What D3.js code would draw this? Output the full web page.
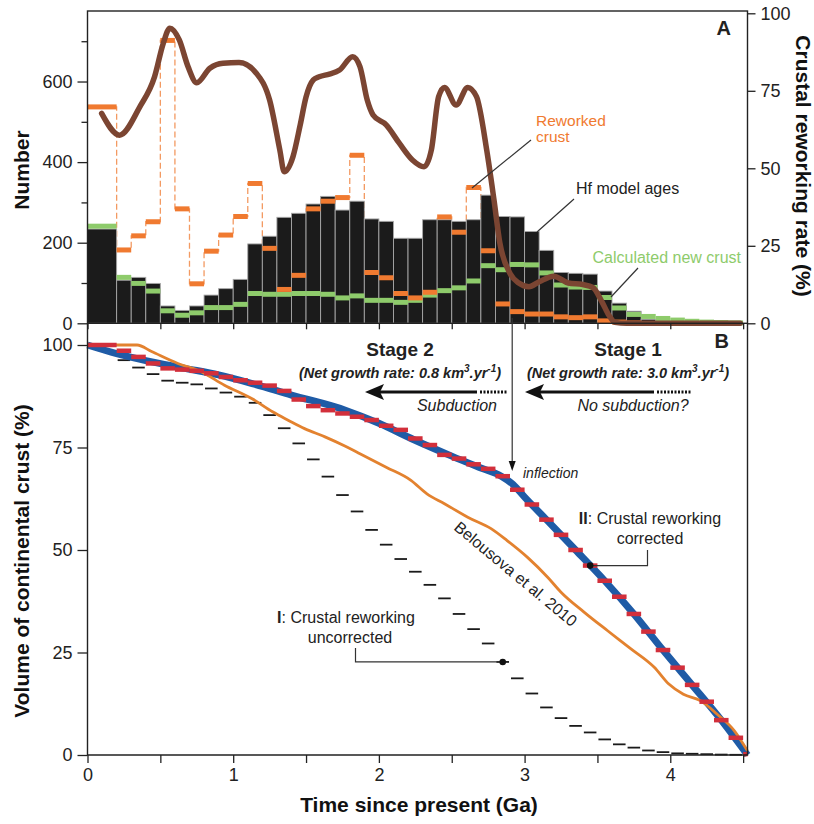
<!DOCTYPE html>
<html>
<head>
<meta charset="utf-8">
<script src="https://cdn.jsdelivr.net/npm/d3@7"></script>
<style>
  body { margin: 0; background: #fff; }
  svg { display: block; font-family: "Liberation Sans", Arial, Helvetica, sans-serif; }
</style>
</head>
<body>
<svg id="chart" width="814" height="824"></svg>
<script>
// ---- Age bins (Ga): bin i spans binEdges[i] .. binEdges[i+1]
const binEdges = [0, 0.2, 0.3, 0.4, 0.5, 0.6, 0.7, 0.8, 0.9, 1.0, 1.1, 1.2, 1.3, 1.4, 1.5,
  1.6, 1.7, 1.8, 1.9, 2.0, 2.1, 2.2, 2.3, 2.4, 2.5, 2.6, 2.7, 2.8, 2.9, 3.0, 3.1, 3.2,
  3.3, 3.4, 3.5, 3.6, 3.7, 3.8, 3.9, 4.0, 4.1, 4.2, 4.3, 4.4, 4.5, 4.53];

// ---- Panel A: counts per bin
const hfModelAges = [234, 107, 114, 99, 43, 32, 43, 70, 86, 109, 197, 216, 263, 273, 296,
  315, 281, 303, 259, 253, 211, 211, 257, 257, 253, 257, 318, 265, 264, 228, 181, 126,
  124, 122, 80, 50, 30, 10, 3, 0, 0, 0, 0, 0, 0];
const reworkedCrust = [537, 182, 217, 252, 702, 284, 98, 179, 219, 265, 347, 186, 84, 119, 284,
  303, 312, 417, 126, 113, 74, 63, 77, 264, 226, 337, 180, 48, 29, 23, 23, 16,
  14, 16, 6, 3, 1, null, null, null, null, null, null, null, null];
const newCrust = [241, 114, 99, 80, 31, 20, 26, 39, 39, 47, 74, 72, 72, 74, 74,
  72, 63, 68, 57, 57, 52, 57, 70, 81, 88, 105, 143, 133, 146, 145, 125, 95,
  90, 89, 64, 38, 22, 17, 12, 8, 5, 3, 2, 1, null];

// ---- Panel A: crustal reworking rate (%) curve
const rateAge = [0.097, 0.22, 0.36, 0.46, 0.52, 0.565, 0.63, 0.69, 0.75, 0.84, 0.93, 1.04, 1.16,
  1.25, 1.32, 1.35, 1.41, 1.46, 1.50, 1.55, 1.59, 1.66, 1.73, 1.82, 1.87, 1.92, 1.96, 2.05,
  2.14, 2.23, 2.31, 2.36, 2.41, 2.45, 2.53, 2.61, 2.67, 2.74, 2.79, 2.83, 2.90, 2.96, 3.03,
  3.10, 3.20, 3.30, 3.40, 3.47, 3.53, 3.58, 3.62, 3.70, 4.48];
const rateValue = [67.7, 60.7, 69.9, 79.5, 90.3, 95.2, 91.4, 82.8, 77.6, 82.3, 83.9, 84.1, 80.6,
  72.0, 55.9, 48.9, 53.7, 64.0, 73.0, 78.5, 79.5, 80.4, 81.7, 86.0, 82.8, 72.0, 67.2, 64.0,
  58.1, 52.7, 50.5, 55.9, 73.1, 76.1, 70.4, 76.1, 73.1, 55.9, 39.8, 26.0, 16.1, 13.0, 11.8,
  13.4, 15.2, 13.0, 12.5, 11.5, 7.0, 2.5, 0.3, 0, 0];

// ---- Panel B: cumulative volume of continental crust (%)
const correctedSteps = [100, 98.6, 97.1, 95.5, 94.3, 94.0, 93.7, 93.1, 92.2, 91.4, 90.8, 90.1,
  88.8, 86.7, 85.1, 84.1, 83.3, 82.5, 81.7, 80.3, 79.3, 77.2, 75.6, 73.2, 72.3, 70.9, 69.8,
  68.0, 64.7, 61.1, 57.4, 53.7, 50.0, 46.2, 42.5, 38.6, 34.4, 30.1, 25.6, 21.3, 17.1, 13.0,
  8.5, 4.2, 0.2];
const uncorrectedSteps = [null, 96.3, 94.5, 92.9, 91.3, 90.8, 90.4, 89.4, 88.4, 87.4, 85.9, 82.9,
  79.7, 76.0, 72.1, 67.9, 63.4, 59.4, 54.9, 51.3, 47.8, 44.7, 41.5, 38.2, 34.4, 30.7, 27.2,
  22.7, 18.7, 15.0, 11.6, 9.0, 7.1, 5.5, 3.8, 2.6, 1.8, 1.1, 0.7, 0.4, 0.3, 0.2, 0.1, 0.05, null];
const modelAge = [0, 0.2, 0.4, 0.67, 0.9, 1.13, 1.4, 1.77, 2.0, 2.24, 2.5, 2.7, 2.84, 2.92,
  3.0, 3.15, 3.35, 3.55, 3.75, 3.95, 4.15, 4.35, 4.53];
const modelVolume = [100, 97.9, 96.2, 94.3, 92.7, 90.6, 87.8, 84.1, 80.9, 76.9, 72.9, 70.0, 68.0,
  66.0, 62.9, 57.4, 50.0, 42.5, 34.4, 25.6, 17.1, 8.5, 0];
const belousovaAge = [0, 0.34, 0.44, 0.62, 0.78, 0.94, 1.13, 1.27, 1.38, 1.49, 1.63, 1.77, 1.87,
  2.05, 2.22, 2.33, 2.45, 2.61, 2.77, 2.88, 3.02, 3.16, 3.25, 3.41, 3.57, 3.73, 3.89, 3.99,
  4.09, 4.21, 4.32, 4.44, 4.53];
const belousovaVolume = [100, 100, 98.4, 95.5, 93.5, 90.2, 86.9, 83.7, 81.6, 79.6, 77.6, 75.3, 73.5,
  70.2, 67.0, 63.7, 61.3, 58.0, 55.2, 52.3, 48.2, 43.3, 39.7, 34.8, 30.3, 25.9, 21.4, 17.3,
  14.8, 13.2, 10.0, 5.9, 1.0];

// ---- Axis ticks
const numberTicks = [0, 200, 400, 600];
const numberMinorTicks = [100, 300, 500, 700];
const rateTicks = [0, 25, 50, 75, 100];
const volumeTicks = [0, 25, 50, 75, 100];
const timeTicks = [0, 0.5, 1, 1.5, 2, 2.5, 3, 3.5, 4, 4.5];
const timeLabels = [0, 1, 2, 3, 4];
const inflectionAge = 2.915;

// ---- Colours
const C = {
  bar: "#1b1b1b", barEdge: "#a8a8a8", green: "#8ecb6b", orange: "#f07a30",
  orangeDash: "#f39a62", brown: "#7b4532", blue: "#1f5ba6", red: "#d22f3b",
  bel: "#e3822f", ink: "#222"
};

const svg = d3.select("#chart");
const x = d3.scaleLinear().domain([0, 4.53]).range([87.5, 747.5]);
const yN = d3.scaleLinear().domain([0, 775]).range([323.3, 11]);
const yR = d3.scaleLinear().domain([0, 100]).range([323.3, 13.3]);
const yV = d3.scaleLinear().domain([0, 100]).range([755, 345]);

const bins = binEdges.slice(0, -1).map((a, i) => ({ a, b: binEdges[i + 1], i }));

// ================= Panel A =================
const gA = svg.append("g");

// dashed step outline of the reworked-crust series
const stepPts = [];
bins.forEach(d => {
  const v = reworkedCrust[d.i];
  if (v != null) { stepPts.push([x(d.a), yN(v)], [x(d.b), yN(v)]); }
});
gA.append("path")
  .attr("d", d3.line()(stepPts))
  .attr("fill", "none").attr("stroke", C.orangeDash)
  .attr("stroke-width", 1.3).attr("stroke-dasharray", "6,3");

// Hf model age histogram
gA.selectAll("rect.hf").data(bins.filter(d => hfModelAges[d.i] > 0)).join("rect")
  .attr("class", "hf")
  .attr("x", d => x(d.a)).attr("width", d => x(d.b) - x(d.a))
  .attr("y", d => yN(hfModelAges[d.i]))
  .attr("height", d => yN(0) - yN(hfModelAges[d.i]))
  .attr("fill", C.bar).attr("stroke", C.barEdge).attr("stroke-width", 0.9);

// calculated new crust markers
gA.selectAll("line.nc").data(bins.filter(d => newCrust[d.i] != null)).join("line")
  .attr("class", "nc")
  .attr("x1", d => x(d.a)).attr("x2", d => x(d.b))
  .attr("y1", d => yN(newCrust[d.i])).attr("y2", d => yN(newCrust[d.i]))
  .attr("stroke", C.green).attr("stroke-width", 5);

// reworked crust markers
gA.selectAll("line.rw").data(bins.filter(d => reworkedCrust[d.i] != null)).join("line")
  .attr("class", "rw")
  .attr("x1", d => x(d.a)).attr("x2", d => x(d.b))
  .attr("y1", d => yN(reworkedCrust[d.i])).attr("y2", d => yN(reworkedCrust[d.i]))
  .attr("stroke", C.orange).attr("stroke-width", 5);

// crustal reworking rate curve
const rateLine = d3.line().x(d => x(d[0])).y(d => yR(d[1])).curve(d3.curveMonotoneX);
gA.append("path")
  .attr("d", rateLine(rateAge.map((t, i) => [t, rateValue[i]])))
  .attr("fill", "none").attr("stroke", C.brown).attr("stroke-width", 5.5)
  .attr("stroke-linejoin", "round").attr("stroke-linecap", "round");

// ================= Panel B =================
const gB = svg.append("g");

// I: crustal reworking uncorrected
gB.selectAll("line.unc").data(bins.filter(d => uncorrectedSteps[d.i] != null)).join("line")
  .attr("class", "unc")
  .attr("x1", d => x(d.a) + 1).attr("x2", d => x(d.b) - 1)
  .attr("y1", d => yV(uncorrectedSteps[d.i])).attr("y2", d => yV(uncorrectedSteps[d.i]))
  .attr("stroke", "#1a1a1a").attr("stroke-width", 1.8);

const volLine = d3.line().x(d => x(d[0])).y(d => yV(d[1])).curve(d3.curveMonotoneX);

// II: model curve
gB.append("path")
  .attr("d", volLine(modelAge.map((t, i) => [t, modelVolume[i]])))
  .attr("fill", "none").attr("stroke", C.blue).attr("stroke-width", 7);

// Belousova et al. 2010
gB.append("path")
  .attr("d", volLine(belousovaAge.map((t, i) => [t, belousovaVolume[i]])))
  .attr("fill", "none").attr("stroke", C.bel).attr("stroke-width", 2.8);

// II: crustal reworking corrected
gB.selectAll("line.cor").data(bins).join("line")
  .attr("class", "cor")
  .attr("x1", d => x(d.a)).attr("x2", d => x(d.b))
  .attr("y1", d => yV(correctedSteps[d.i])).attr("y2", d => yV(correctedSteps[d.i]))
  .attr("stroke", C.red).attr("stroke-width", 4.5);

// ================= Frames and axes =================
const frame = svg.append("g").attr("fill", "none").attr("stroke", C.ink).attr("stroke-width", 1.4);
frame.append("rect").attr("x", 87.5).attr("y", 11).attr("width", 660).attr("height", 312.3);
frame.append("path").attr("d", "M87.5,323.3V755H747.5V323.3");

function styleAxis(g) {
  g.select(".domain").remove();
  g.selectAll(".tick line").attr("stroke", C.ink).attr("stroke-width", 1.3);
  g.selectAll(".tick text").attr("fill", "#222").attr("font-size", 18)
    .attr("font-family", "'Liberation Sans', Arial, sans-serif");
}

svg.append("g").attr("transform", "translate(87.5,0)")
  .call(d3.axisLeft(yN).tickValues(numberTicks).tickSize(10).tickPadding(5)).call(styleAxis);
svg.append("g").attr("transform", "translate(87.5,0)")
  .call(d3.axisLeft(yN).tickValues(numberMinorTicks).tickSize(6).tickFormat("")).call(styleAxis);
svg.append("g").attr("transform", "translate(747.5,0)")
  .call(d3.axisRight(yR).tickValues(rateTicks).tickSize(8).tickPadding(5)).call(styleAxis);
svg.append("g").attr("transform", "translate(0,323.3)")
  .call(d3.axisBottom(x).tickValues(timeTicks).tickSize(6).tickFormat("")).call(styleAxis);
svg.append("g").attr("transform", "translate(87.5,0)")
  .call(d3.axisLeft(yV).tickValues(volumeTicks).tickSize(10).tickPadding(5)).call(styleAxis);
svg.append("g").attr("transform", "translate(0,755)")
  .call(d3.axisBottom(x).tickValues(timeTicks).tickSize(8).tickPadding(5)
    .tickFormat(d => timeLabels.includes(d) ? d : "")).call(styleAxis);

// axis titles
const title = (tx, ty, rot, txt) => svg.append("text")
  .attr("transform", `translate(${tx},${ty}) rotate(${rot})`)
  .attr("text-anchor", "middle").attr("font-weight", "bold").attr("font-size", 21)
  .attr("fill", "#111").text(txt);
title(29, 170, -90, "Number");
title(29, 561, -90, "Volume of continental crust (%)");
title(796, 166, 90, "Crustal reworking rate (%)");
title(419, 812, 0, "Time since present (Ga)");

// ================= Annotations =================
const ann = svg.append("g").attr("fill", "#222");
const txt = (tx, ty, s, opts = {}) => {
  const t = ann.append("text").attr("x", tx).attr("y", ty).text(s)
    .attr("font-size", opts.size || 16).attr("text-anchor", opts.anchor || "start");
  if (opts.weight) t.attr("font-weight", opts.weight);
  if (opts.style) t.attr("font-style", opts.style);
  if (opts.fill) t.attr("fill", opts.fill);
  return t;
};
const pointer = d => ann.append("path").attr("d", d).attr("fill", "none")
  .attr("stroke", "#333").attr("stroke-width", 1.2);

// panel letters
txt(731, 35, "A", { size: 20, weight: "bold", anchor: "end" });
txt(729, 348, "B", { size: 20, weight: "bold", anchor: "end" });

// panel A labels
txt(536, 126, "Reworked", { size: 15.5, fill: C.orange });
txt(536, 142, "crust", { size: 15.5, fill: C.orange });
pointer("M531,140L472,188");
txt(576, 194, "Hf model ages");
pointer("M574,199L537,232");
txt(741, 263, "Calculated new crust", { fill: C.green, anchor: "end" });
pointer("M638,268L611,297");

// stages
txt(400, 356, "Stage 2", { size: 19, weight: "bold", anchor: "middle" });
txt(628, 356, "Stage 1", { size: 19, weight: "bold", anchor: "middle" });
function rateText(cx, rate) {
  const t = ann.append("text").attr("x", cx).attr("y", 378).attr("text-anchor", "middle")
    .attr("font-size", 14.5).attr("font-weight", "bold").attr("font-style", "italic");
  t.append("tspan").text(`(Net growth rate: ${rate} km`);
  t.append("tspan").attr("dy", -6).attr("font-size", 10).text("3");
  t.append("tspan").attr("dy", 6).text(".yr");
  t.append("tspan").attr("dy", -6).attr("font-size", 10).text("-1");
  t.append("tspan").attr("dy", 6).text(")");
}
rateText(400, "0.8");
rateText(628, "3.0");

function stageArrow(tip, solidEnd, dotEnd) {
  const y = 392;
  ann.append("path").attr("d", `M${tip + 14},${y}H${solidEnd}`)
    .attr("stroke", "#111").attr("stroke-width", 3).attr("fill", "none");
  ann.append("path").attr("d", `M${solidEnd + 3},${y}H${dotEnd}`)
    .attr("stroke", "#111").attr("stroke-width", 3).attr("stroke-dasharray", "2,1.5").attr("fill", "none");
  ann.append("path").attr("d", `M${tip},${y}L${tip + 19},${y - 8}L${tip + 15},${y}L${tip + 19},${y + 8}Z`)
    .attr("fill", "#111");
}
stageArrow(365, 477, 507);
stageArrow(525, 654, 692);
txt(497, 411, "Subduction", { style: "italic", anchor: "end" });
txt(633, 411, "No subduction?", { style: "italic", anchor: "middle" });

// inflection marker
const xi = x(inflectionAge);
pointer(`M${xi},318V462`);
ann.append("path").attr("d", `M${xi - 3.5},461L${xi},471L${xi + 3.5},461Z`).attr("fill", "#111");
txt(523, 478, "inflection", { size: 14, style: "italic" });

// II label
const iII = binEdges.indexOf(3.4);
const dII = [x((binEdges[iII] + binEdges[iII + 1]) / 2), yV(correctedSteps[iII])];
const tII = ann.append("text").attr("x", 650).attr("y", 524).attr("text-anchor", "middle").attr("font-size", 16);
tII.append("tspan").attr("font-weight", "bold").text("II");
tII.append("tspan").text(": Crustal reworking");
txt(650, 544, "corrected", { anchor: "middle" });
pointer(`M647.5,550V${dII[1]}H${dII[0]}`);
ann.append("circle").attr("cx", dII[0]).attr("cy", dII[1]).attr("r", 3.3).attr("fill", "#111");

// I label
const iI = binEdges.indexOf(2.8);
const dI = [x((binEdges[iI] + binEdges[iI + 1]) / 2), yV(uncorrectedSteps[iI])];
const tI = ann.append("text").attr("x", 346).attr("y", 623).attr("text-anchor", "middle").attr("font-size", 16);
tI.append("tspan").attr("font-weight", "bold").text("I");
tI.append("tspan").text(": Crustal reworking");
txt(350, 643, "uncorrected", { anchor: "middle" });
pointer(`M355.5,648V${dI[1]}H${dI[0]}`);
ann.append("circle").attr("cx", dI[0]).attr("cy", dI[1]).attr("r", 3.3).attr("fill", "#111");

// Belousova label along its curve
ann.append("text").attr("transform", "translate(453,529) rotate(39.8)")
  .attr("font-size", 16).text("Belousova et al. 2010");
</script>
</body>
</html>
